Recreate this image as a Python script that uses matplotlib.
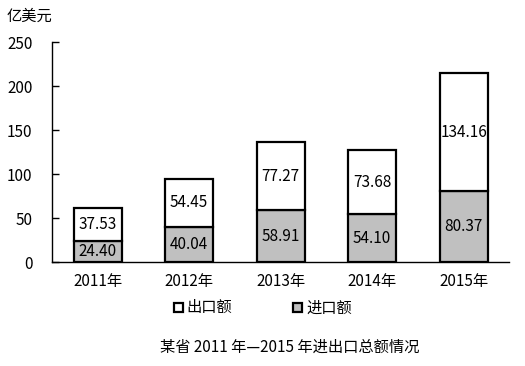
import matplotlib
matplotlib.use("Agg")
import matplotlib.pyplot as plt
from matplotlib.patches import Rectangle

plt.rcParams["font.family"] = ["Noto Sans CJK SC", "DejaVu Sans"]

years = ["2011年", "2012年", "2013年", "2014年", "2015年"]
imports = [24.40, 40.04, 58.91, 54.10, 80.37]
exports = [37.53, 54.45, 77.27, 73.68, 134.16]

fig = plt.figure(figsize=(5.25, 3.66), dpi=100)
ax = fig.add_axes([0.099, 0.284, 0.871, 0.601])

x = list(range(len(years)))
width = 0.525
ax.bar(x, imports, width, color="#c0c0c0", edgecolor="black", linewidth=1.6, zorder=3)
ax.bar(x, exports, width, bottom=imports, color="white", edgecolor="black",
       linewidth=1.6, zorder=3)

for xi, imp, exp in zip(x, imports, exports):
    ax.text(xi, imp / 2, f"{imp:.2f}", ha="center", va="center", fontsize=11, zorder=4)
    ax.text(xi, imp + exp / 2, f"{exp:.2f}", ha="center", va="center", fontsize=11, zorder=4)

ax.set_xlim(-0.5, 4.5)
ax.set_ylim(0, 250)
ax.set_yticks([0, 50, 100, 150, 200, 250])
ax.set_xticks(x)
ax.set_xticklabels(years)
ax.tick_params(axis="y", direction="in", length=5, width=1, labelsize=11, pad=14)
ax.tick_params(axis="x", length=0, labelsize=11, pad=8)
ax.spines["top"].set_visible(False)
ax.spines["right"].set_visible(False)
ax.spines["left"].set_linewidth(1)
ax.spines["bottom"].set_linewidth(1)

fig.text(0.013, 0.955, "亿美元", fontsize=11, ha="left", va="center")

# legend
for sx, fc, label in [(0.331, "white", "出口额"), (0.559, "#c0c0c0", "进口额")]:
    fig.patches.append(Rectangle((sx, 0.147), 0.017, 0.024, transform=fig.transFigure,
                                 facecolor=fc, edgecolor="black", linewidth=1.6))
    fig.text(sx + 0.024, 0.159, label, fontsize=11, ha="left", va="center")

fig.text(0.552, 0.052, "某省 2011 年—2015 年进出口总额情况", fontsize=11,
         ha="center", va="center")

fig.savefig("out.png", dpi=100)
